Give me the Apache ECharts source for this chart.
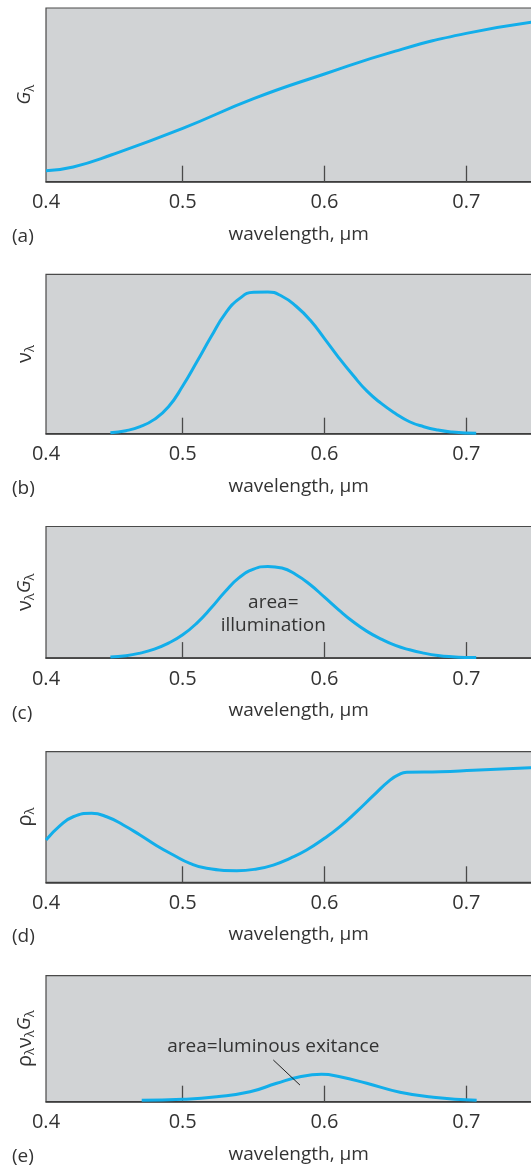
<!DOCTYPE html>
<html>
<head>
<meta charset="utf-8">
<script src="https://cdn.jsdelivr.net/npm/echarts@6/dist/echarts.min.js"></script>
<style>
  html, body { margin: 0; padding: 0; background: #fff; }
  #chart { width: 531px; height: 1165px; }
</style>
</head>
<body>
<div id="chart"></div>
<script>
// wavelength (µm) vs. value normalised to the panel height (0..1)
const wlMin = 0.4036;   // left edge of every panel, where the "0.4" label sits
const wlMax = 0.76;

const wlA = [0.4036, 0.4228, 0.450, 0.500, 0.550, 0.600, 0.650, 0.700, 0.752];
const gA  = [0.063, 0.085, 0.155, 0.307, 0.478, 0.620, 0.752, 0.854, 0.925];

const wlB = [0.449, 0.46, 0.47, 0.48, 0.49, 0.50, 0.51, 0.52, 0.53, 0.54, 0.55, 0.56, 0.57, 0.58,
             0.59, 0.60, 0.61, 0.62, 0.63, 0.64, 0.65, 0.66, 0.67, 0.68, 0.69, 0.70, 0.707];
const vB  = [0.006, 0.019, 0.044, 0.090, 0.169, 0.299, 0.451, 0.608, 0.754, 0.848, 0.888, 0.890, 0.863, 0.800,
             0.712, 0.597, 0.478, 0.368, 0.267, 0.190, 0.127, 0.075, 0.044, 0.023, 0.010, 0.004, 0.003];

const wlC = [0.449, 0.46, 0.47, 0.48, 0.49, 0.50, 0.51, 0.52, 0.53, 0.54, 0.55, 0.56, 0.57, 0.58,
             0.59, 0.60, 0.61, 0.62, 0.63, 0.64, 0.65, 0.66, 0.67, 0.68, 0.69, 0.70, 0.707];
const vgC = [0.008, 0.018, 0.038, 0.068, 0.114, 0.177, 0.266, 0.380, 0.506, 0.613, 0.676, 0.696, 0.684, 0.633,
             0.557, 0.463, 0.367, 0.278, 0.203, 0.144, 0.096, 0.063, 0.038, 0.020, 0.010, 0.005, 0.004];

const wlD = [0.4036, 0.4135, 0.4228, 0.4358, 0.4464, 0.4581, 0.4699, 0.4817, 0.4934, 0.5051, 0.5169, 0.5381, 0.5522, 0.5639, 0.5757, 0.5874, 0.6000, 0.6109, 0.6227, 0.6344, 0.6462, 0.6532, 0.6580, 0.6815, 0.7050, 0.7450, 0.7520];
const rD  = [0.324, 0.434, 0.502, 0.528, 0.502, 0.439, 0.362, 0.280, 0.209, 0.145, 0.107, 0.089, 0.102, 0.132, 0.184, 0.247, 0.337, 0.426, 0.541, 0.663, 0.783, 0.829, 0.842, 0.847, 0.858, 0.877, 0.880];

const wlE = [0.4711, 0.5000, 0.5240, 0.5475, 0.5663, 0.5827, 0.5980, 0.6109, 0.6298, 0.6532, 0.6767, 0.7073];
const rvgE = [0.011, 0.019, 0.040, 0.079, 0.146, 0.198, 0.217, 0.198, 0.146, 0.075, 0.035, 0.011];

const tickValues = [0.5, 0.6, 0.7];
const labelValues = [wlMin, 0.5, 0.6, 0.7];
const panelLetters = ['(a)', '(b)', '(c)', '(d)', '(e)'];
const yNames = [
  '{i|G}{s|λ}',
  '{m|ν}{s|λ}',
  '{m|ν}{s|λ}{i|G}{s|λ}',
  '{m|ρ}{s|λ}',
  '{m|ρ}{s|λ}{m|ν}{s|λ}{i|G}{s|λ}'
];
const noteC = { text: 'area=\nillumination', at: [0.5639, 0.338] };
const noteE = { text: 'area=luminous exitance', at: [0.5639, 0.437], from: [0.5639, 0.331], to: [0.5827, 0.132] };

// panel layout
const tops = [8, 274.4, 526.5, 751.7, 975.7];
const heights = [173.7, 159.3, 131.6, 130.6, 126];
const letterY = [237, 489, 714, 937, 1157];
const GRID_LEFT = 46;
const PX_PER_UNIT = 1418;

const FONT = '"Open Sans", "Noto Sans", sans-serif';
const TXT = '#333';
const BLUE = '#12aeea';

const dom = document.getElementById('chart');
const myChart = echarts.init(dom);

const grids = [], xAxes = [], yAxes = [];
for (let i = 0; i < 5; i++) {
    grids.push({
        left: GRID_LEFT, top: tops[i], width: (wlMax - wlMin) * PX_PER_UNIT, height: heights[i],
        outerBoundsMode: 'none', containLabel: false,
        show: true, backgroundColor: '#d1d3d5', borderColor: '#4a4a4a', borderWidth: 1.2
    });
    xAxes.push({
        type: 'value', gridIndex: i, min: wlMin, max: wlMax,
        axisLine: { show: true, lineStyle: { color: '#3a3a3a', width: 1.5 } },
        axisTick: { show: true, inside: true, length: 16, customValues: tickValues, lineStyle: { color: '#4a4a4a', width: 1.3 } },
        splitLine: { show: false },
        axisLabel: {
            show: true, margin: 11, color: TXT, fontSize: 20, fontFamily: FONT,
            customValues: labelValues,
            formatter: v => v.toFixed(1)
        },
        name: 'wavelength, µm', nameLocation: 'middle', nameGap: 43,
        nameTextStyle: { color: TXT, fontSize: 19, fontFamily: FONT }
    });
    yAxes.push({
        type: 'value', gridIndex: i, min: 0, max: 1,
        axisLine: { show: false }, axisTick: { show: false },
        axisLabel: { show: false }, splitLine: { show: false },
        name: yNames[i], nameLocation: 'middle', nameGap: 9, nameRotate: 90,
        nameTextStyle: {
            color: TXT, fontFamily: FONT,
            rich: {
                i: { fontSize: 19, fontStyle: 'italic', fontFamily: FONT, color: TXT, verticalAlign: 'middle', lineHeight: 24 },
                m: { fontSize: 20, fontFamily: FONT, color: TXT, verticalAlign: 'middle', lineHeight: 24 },
                s: { fontSize: 13, fontFamily: FONT, color: TXT, verticalAlign: 'bottom', lineHeight: 12 }
            }
        }
    });
}

const lineSeries = (i, xs, ys, extra) => Object.assign({
    type: 'line', xAxisIndex: i, yAxisIndex: i,
    data: xs.map((x, k) => [x, ys[k]]),
    smooth: 0.5, showSymbol: false, silent: true,
    lineStyle: { color: BLUE, width: 3 }
}, extra || {});

const noteLabel = {
    show: true, color: TXT, fontSize: 19, fontFamily: FONT, lineHeight: 23,
    position: 'inside'
};

const option = {
    backgroundColor: '#fff',
    animation: false,
    grid: grids,
    xAxis: xAxes,
    yAxis: yAxes,
    series: [
        lineSeries(0, wlA, gA),
        lineSeries(1, wlB, vB),
        lineSeries(2, wlC, vgC, {
            markPoint: {
                symbol: 'circle', symbolSize: 1, itemStyle: { color: 'transparent' },
                label: noteLabel,
                data: [{ coord: noteC.at, value: 1, label: { formatter: noteC.text } }]
            }
        }),
        lineSeries(3, wlD, rD),
        lineSeries(4, wlE, rvgE, {
            markPoint: {
                symbol: 'circle', symbolSize: 1, itemStyle: { color: 'transparent' },
                label: noteLabel,
                data: [{ coord: noteE.at, value: 1, label: { formatter: noteE.text } }]
            },
            markLine: {
                symbol: 'none', silent: true,
                lineStyle: { color: '#222', width: 1, type: 'solid' },
                label: { show: false },
                data: [[{ coord: noteE.from }, { coord: noteE.to }]]
            }
        })
    ],
    graphic: panelLetters.map((t, i) => ({
        type: 'text', x: 12, y: letterY[i],
        style: { text: t, fill: TXT, fontSize: 19, fontFamily: FONT, verticalAlign: 'middle', align: 'left' }
    }))
};

myChart.setOption(option);
window.addEventListener('resize', () => myChart.resize());
</script>
</body>
</html>
